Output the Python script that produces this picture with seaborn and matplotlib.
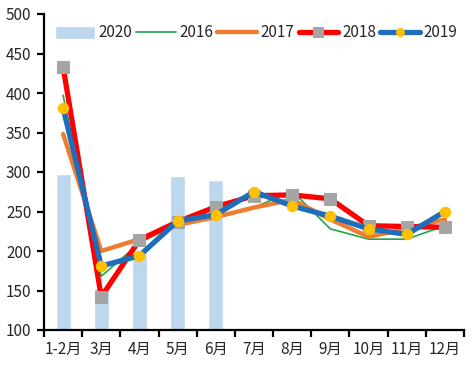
import numpy as np
import pandas as pd
import matplotlib
matplotlib.use('Agg')
import matplotlib.pyplot as plt
import seaborn as sns

# data
months = ['1-2月', '3月', '4月', '5月', '6月', '7月', '8月', '9月', '10月', '11月', '12月']
v2020 = [297, 153, 197, 295, 290, np.nan, np.nan, np.nan, np.nan, np.nan, np.nan]
v2016 = [397, 168, 210, 235, 242, 255, 276, 228, 215, 215, 232]
v2017 = [348, 200, 215, 233, 243, 255, 265, 240, 218, 228, 240]
v2018 = [433, 142, 214, 237, 256, 270, 271, 266, 232, 231, 230]
v2019 = [381, 181, 194, 238, 246, 275, 257, 244, 228, 221, 250]

sns.set_style('white')
plt.rcParams['font.family'] = ['Noto Sans CJK SC', 'DejaVu Sans']
plt.rcParams['font.size'] = 11

df = pd.DataFrame({'month': months, '2020': v2020, '2016': v2016, '2017': v2017,
                   '2018': v2018, '2019': v2019})

fig = plt.figure(figsize=(4.73, 3.75), dpi=100)
ax = fig.add_axes([44 / 473, 1 - 330 / 375, 420 / 473, 316 / 375])

sns.barplot(data=df, x='month', y='2020', order=months, color='#BDD7EE',
            saturation=1, width=0.39, ax=ax, label='2020')

styles = [
    ('2016', dict(color='#1FA64A', linewidth=1.2)),
    ('2017', dict(color='#ED7D31', linewidth=3.2)),
    ('2018', dict(color='#FF0000', linewidth=3.8, marker='s', markersize=9,
                  markerfacecolor='#A5A5A5', markeredgecolor='#A5A5A5')),
    ('2019', dict(color='#1F6EBB', linewidth=3.8, marker='o', markersize=7.5,
                  markerfacecolor='#FFC000', markeredgecolor='#FFC000')),
]
for name, kw in styles:
    sns.lineplot(x=np.arange(len(months)), y=df[name], ax=ax, label=name,
                 solid_capstyle='round', **kw)

ax.set_xlim(-0.5, len(months) - 0.5)
ax.set_ylim(100, 500)
ax.set_yticks(range(100, 501, 50))
ax.set_xticks(range(len(months)))
ax.set_xticklabels(months)
ax.set_xticks(np.arange(-0.5, len(months)), minor=True)
ax.set_xlabel('')
ax.set_ylabel('')

for s in ['top', 'right']:
    ax.spines[s].set_visible(False)
for s in ['left', 'bottom']:
    ax.spines[s].set_color('black')
    ax.spines[s].set_linewidth(1.6)
ax.tick_params(axis='y', which='major', direction='out', length=5, width=1.6,
               color='black', left=True, labelsize=11, pad=4)
ax.tick_params(axis='x', which='major', length=0, labelsize=11, pad=8)
ax.tick_params(axis='x', which='minor', direction='out', length=5, width=1.6,
               color='black', bottom=True)

h, l = ax.get_legend_handles_labels()
order = [l.index(n) for n in ['2020', '2016', '2017', '2018', '2019']]
ax.legend([h[i] for i in order], [l[i] for i in order], ncol=5, frameon=False,
          loc='center', bbox_to_anchor=(0.505, 0.94), handlelength=2.6,
          handleheight=0.9, handletextpad=0.25, columnspacing=0.25,
          markerscale=0.75, fontsize=11)

fig.savefig('out.png', dpi=100)
